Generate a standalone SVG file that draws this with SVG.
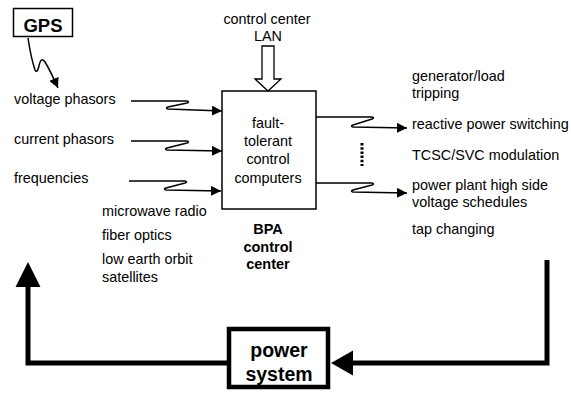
<svg xmlns="http://www.w3.org/2000/svg" width="571" height="394" viewBox="0 0 571 394">
<defs>
<marker id="ah" viewBox="0 0 10 10" refX="10" refY="5" markerWidth="10" markerHeight="10" markerUnits="userSpaceOnUse" orient="auto"><path d="M0,0 L10,5 L0,10 Z" fill="#000"/></marker>
</defs>
<style>
text{font-family:"Liberation Sans",Arial,sans-serif;fill:#000}
.t{font-size:14.4px}
.b{font-size:14.5px;font-weight:bold}
.c{text-anchor:middle}
.thin{fill:none;stroke:#000;stroke-width:1.5}
.thick{fill:none;stroke:#000;stroke-width:5}
</style>
<rect width="571" height="394" fill="#fff"/>
<g id="gps">
<rect x="13.5" y="8.5" width="59" height="28" fill="#fff" stroke="#000" stroke-width="1.5"/>
<text x="43" y="32" class="c" style="font-size:18.5px;font-weight:bold">GPS</text>
</g>
<g id="control">
<rect x="222" y="91" width="94" height="118" fill="#fff" stroke="#000" stroke-width="1.5"/>
<text class="t c" x="268" y="128">fault-</text>
<text class="t c" x="268" y="146">tolerant</text>
<text class="t c" x="268" y="164">control</text>
<text class="t c" x="268" y="183">computers</text>
</g>
<g id="bpa">
<text class="b c" x="268" y="234">BPA</text>
<text class="b c" x="268" y="252">control</text>
<text class="b c" x="268" y="269">center</text>
</g>
<g id="power">
<rect x="229" y="329" width="99" height="58" fill="#fff" stroke="#000" stroke-width="4.5"/>
<text class="c" x="279" y="357" style="font-size:19.5px;font-weight:bold">power</text>
<text class="c" x="279" y="381" style="font-size:19.5px;font-weight:bold">system</text>
</g>
<g id="inputs">
<text class="t" x="14" y="104">voltage phasors</text>
<text class="t" x="14" y="144">current phasors</text>
<text class="t" x="14" y="183">frequencies</text>
<text class="t" x="102" y="216">microwave radio</text>
<text class="t" x="102" y="240">fiber optics</text>
<text class="t" x="102" y="264">low earth orbit</text>
<text class="t" x="102" y="282">satellites</text>
</g>
<g id="outputs">
<text class="t" x="412" y="81">generator/load</text>
<text class="t" x="412" y="98">tripping</text>
<text class="t" x="412" y="129">reactive power switching</text>
<text class="t" x="412" y="160">TCSC/SVC modulation</text>
<text class="t" x="412" y="190">power plant high side</text>
<text class="t" x="412" y="207">voltage schedules</text>
<text class="t" x="412" y="234">tap changing</text>
</g>
<g id="lan">
<text class="t c" x="267" y="24">control center</text>
<text class="t c" x="268" y="41">LAN</text>
<path d="M262,46 L274,46 L274,79 L281,79 L268,91 L255,79 L262,79 Z" fill="#fff" stroke="#000" stroke-width="1.3"/>
</g>
<g id="connectors">
<path class="thin" d="M28,38 Q31,58 35,70 Q37,74 39,66 Q41,56 45,62 Q50,70 58,88" marker-end="url(#ah)"/>
<path class="thin" d="M131,101 L187,101 Q190,102 187,103 L168,107 Q165,108 168,109 L222,111" marker-end="url(#ah)"/>
<path class="thin" d="M131,141 L187,141 Q190,142 187,143 L167,148 Q164,149 167,150 L222,151" marker-end="url(#ah)"/>
<path class="thin" d="M129,181 L185,181 Q188,182 185,183 L166,188 Q163,189 166,190 L221,191" marker-end="url(#ah)"/>
<path class="thin" d="M316,117 L372,117 Q375,118 372,119 L353,125 Q350,126 353,127 L407,128" marker-end="url(#ah)"/>
<path class="thin" d="M316,183 L372,183 Q375,184 372,185 L353,190 Q350,191 353,192 L407,193" marker-end="url(#ah)"/>
<line x1="362" y1="143" x2="362" y2="166" stroke="#000" stroke-width="3" stroke-dasharray="2.5,1.7"/>
<path class="thick" d="M547,260 L547,363 L352,363"/>
<path d="M331,363 L353,350.5 L353,375.5 Z" fill="#000"/>
<path class="thick" d="M227,363 L28,363 L28,286"/>
<path d="M28,262 L15.5,287 L40.5,287 Z" fill="#000"/>
</g>
</svg>
